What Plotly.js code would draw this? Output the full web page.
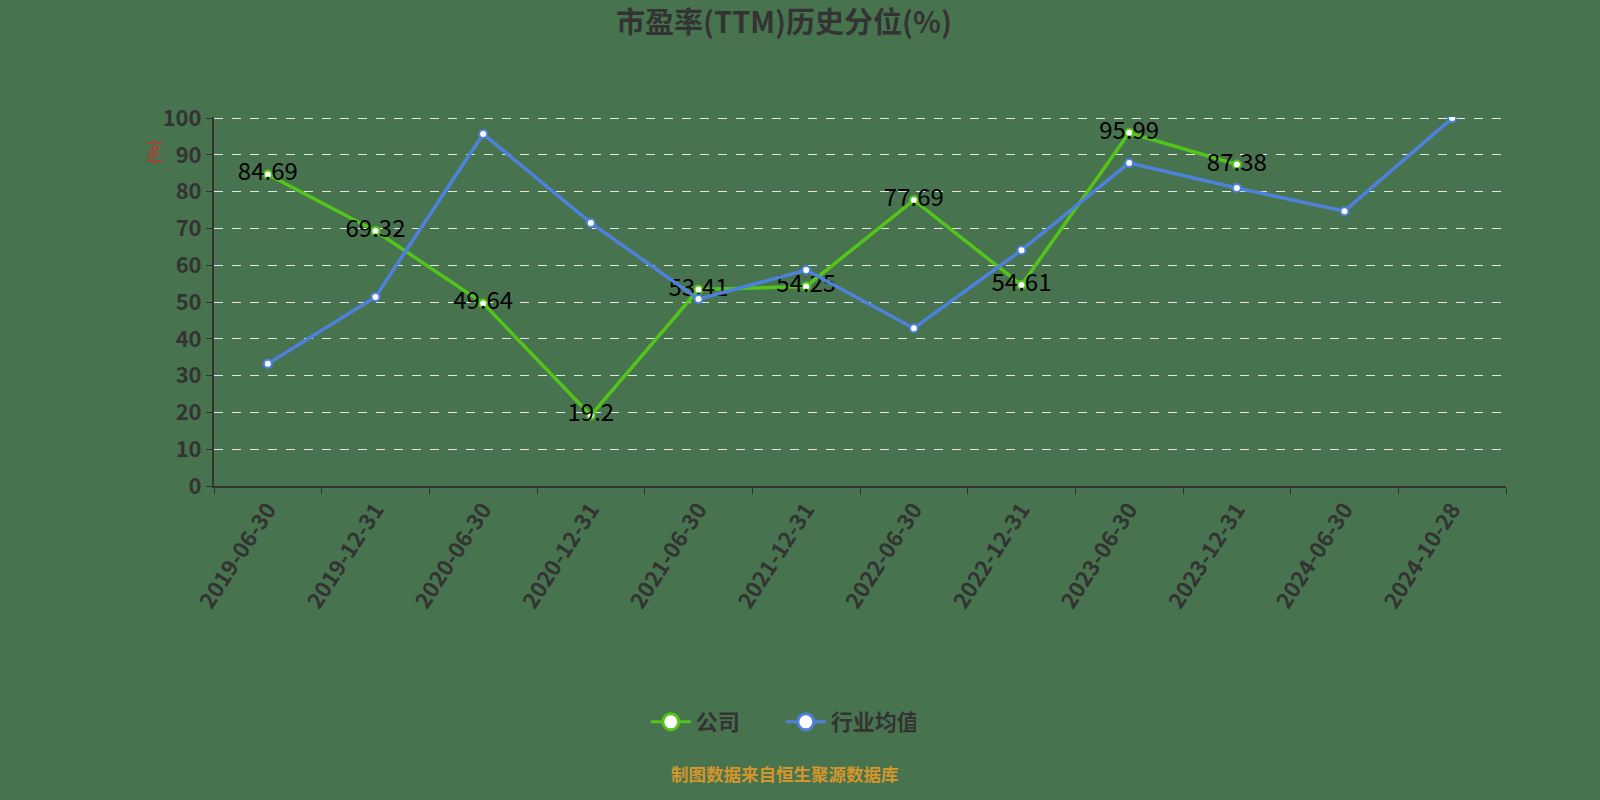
<!DOCTYPE html>
<html>
<head>
<meta charset="utf-8">
<script src="https://cdn.plot.ly/plotly-3.0.1.min.js"></script>
<style>
  html, body { margin: 0; padding: 0; background: #48734f; }
  #chart { width: 1600px; height: 800px; }
</style>
</head>
<body>
<div id="chart"></div>
<script>
// report dates on the x axis
const dates = ["2019-06-30", "2019-12-31", "2020-06-30", "2020-12-31", "2021-06-30", "2021-12-31",
               "2022-06-30", "2022-12-31", "2023-06-30", "2023-12-31", "2024-06-30", "2024-10-28"];
// PE(TTM) historical percentile, company
const companyPct = [84.69, 69.32, 49.64, 19.2, 53.41, 54.25, 77.69, 54.61, 95.99, 87.38, null, null];
// industry average
const industryPct = [33.2, 51.4, 95.7, 71.5, 50.8, 58.7, 42.9, 64.1, 87.8, 81.0, 74.7, 100];

const yTicks = [0, 10, 20, 30, 40, 50, 60, 70, 80, 90, 100];

const font = "'Noto Sans CJK SC', 'Noto Sans', sans-serif";
const green = "#52c41a";
const blue = "#4e81dc";

const company = {
    x: dates,
    y: companyPct,
    name: "公司",
    type: "scatter",
    mode: "lines+markers+text",
    text: companyPct.map(v => v == null ? "" : String(v)),
    textposition: "middle center",
    textfont: { family: font, size: 24, color: "#000" },
    line: { color: green, width: 3.5 },
    marker: { size: 8, color: "#fff", line: { color: green, width: 2 } },
    showlegend: false,
    hoverinfo: "x+y"
};

const industry = {
    x: dates,
    y: industryPct,
    name: "行业均值",
    type: "scatter",
    mode: "lines+markers",
    line: { color: blue, width: 3.5 },
    marker: { size: 8, color: "#fff", line: { color: blue, width: 2 } },
    showlegend: false,
    hoverinfo: "x+y"
};

// legend-only entries so the legend symbols can be drawn larger
const legendCompany = {
    x: [null], y: [null], name: "公司", type: "scatter", mode: "lines+markers",
    line: { color: green, width: 3 },
    marker: { size: 18, color: "#fff", line: { color: green, width: 3 } }
};
const legendIndustry = {
    x: [null], y: [null], name: "行业均值", type: "scatter", mode: "lines+markers",
    line: { color: blue, width: 3 },
    marker: { size: 18, color: "#fff", line: { color: blue, width: 3 } }
};

const layout = {
    width: 1600,
    height: 800,
    paper_bgcolor: "#48734f",
    plot_bgcolor: "#48734f",
    margin: { l: 214, r: 94, t: 117, b: 314 },
    font: { family: font, color: "#333" },
    title: {
        text: "<b>市盈率(TTM)历史分位(%)</b>",
        font: { family: font, size: 29, color: "#333" },
        x: 0.49, xref: "container", xanchor: "center",
        y: 0.972, yref: "container", yanchor: "middle"
    },
    xaxis: {
        type: "category",
        range: [-0.5, dates.length - 0.5],
        tickson: "boundaries",
        ticks: "outside",
        ticklen: 6,
        tickcolor: "#333",
        showgrid: false,
        showline: true,
        linecolor: "#333",
        linewidth: 2,
        tickangle: -57,
        tickfont: { family: font, size: 22, color: "#333", weight: "bold" },
        zeroline: false
    },
    yaxis: {
        range: [0, 100.3],
        tickvals: yTicks,
        ticks: "outside",
        ticklen: 6,
        tickcolor: "#333",
        showline: true,
        linecolor: "#333",
        linewidth: 2,
        showgrid: true,
        gridcolor: "#e6e6e6",
        griddash: "dash",
        gridwidth: 1,
        zeroline: false,
        tickfont: { family: font, size: 22, color: "#333", weight: "bold" }
    },
    legend: {
        orientation: "h",
        xref: "container", x: 0.488, xanchor: "center",
        yref: "container", y: 0.0975, yanchor: "middle",
        font: { family: font, size: 22, color: "#333", weight: "bold" },
        itemwidth: 40,
        entrywidth: 80,
        bgcolor: "rgba(0,0,0,0)"
    },
    annotations: [{
        text: "制图数据来自恒生聚源数据库",
        xref: "paper", yref: "paper",
        x: 0.442, y: -0.78,
        xanchor: "center", yanchor: "middle",
        showarrow: false,
        font: { family: font, size: 17.5, color: "#d4962a", weight: "bold" }
    }, {
        text: "(%)",
        xref: "paper", yref: "paper",
        x: -0.048, y: 0.905,
        xanchor: "center", yanchor: "middle",
        textangle: -90,
        showarrow: false,
        font: { family: font, size: 15, color: "#e02020" }
    }]
};

Plotly.newPlot("chart", [company, industry, legendCompany, legendIndustry], layout, { displayModeBar: false });
</script>
</body>
</html>
